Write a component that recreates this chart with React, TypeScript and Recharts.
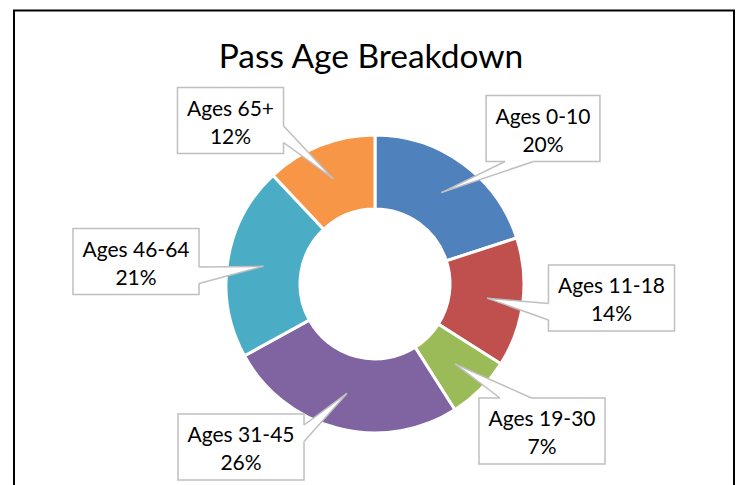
import React from 'react';
import { PieChart, Pie, Cell } from 'recharts';

const categories = ['Ages 0-10', 'Ages 11-18', 'Ages 19-30', 'Ages 31-45', 'Ages 46-64', 'Ages 65+'];
const shares = [20, 14, 7, 26, 21, 12];
const colors = ['#4F81BD', '#C0504D', '#9BBB59', '#8064A2', '#4BACC6', '#F79646'];
const title = 'Pass Age Breakdown';

// label box centre offsets relative to pie centre (layout only)
const labelOffsets: [number, number][] = [
  [168, -155.5],
  [236.5, 14],
  [167, 147],
  [-134, 163],
  [-239, -22.5],
  [-144.5, -163.5],
];

const data = categories.map((name, i) => ({ name, value: shares[i] }));

const LABEL_SIZE = 21;
const LABEL_FONT = `${LABEL_SIZE}px Lato`;
let ctx: CanvasRenderingContext2D | null = null;
function measure(t: string): number {
  if (!ctx) ctx = document.createElement('canvas').getContext('2d');
  if (!ctx) return t.length * 10;
  ctx.font = LABEL_FONT;
  return ctx.measureText(t).width;
}

function Callout(props: any) {
  const { cx, cy, midAngle, innerRadius, outerRadius, percent, index } = props;
  const name = props.name ?? props.payload?.name;
  const RAD = Math.PI / 180;
  const rm = (innerRadius + outerRadius) / 2 + 1;
  const tx = cx + rm * Math.cos(-midAngle * RAD);
  const ty = cy + rm * Math.sin(-midAngle * RAD);
  const [ox, oy] = labelOffsets[index];
  const bx = cx + ox;
  const by = cy + oy;
  const line1 = name;
  const line2 = `${Math.round(percent * 100)}%`;
  const w = Math.max(measure(line1), measure(line2)) + 19;
  const h = 66;
  const l = bx - w / 2;
  const t = by - h / 2;
  const dxPos = tx - bx;
  const dyPos = ty - by;
  const dxs = (dxPos * h) / w;
  let p1: [number, number];
  let p2: [number, number];
  if (Math.abs(dxs) > Math.abs(dyPos)) {
    const ex = dxPos > 0 ? l + w : l;
    const ya = dyPos > 0 ? t + (h * 7) / 12 : t + (h * 2) / 12;
    const yb = dyPos > 0 ? t + (h * 10) / 12 : t + (h * 5) / 12;
    p1 = [ex, ya];
    p2 = [ex, yb];
  } else {
    const ey = dyPos > 0 ? t + h : t;
    const xa = dxPos > 0 ? l + (w * 7) / 12 : l + (w * 2) / 12;
    const xb = dxPos > 0 ? l + (w * 10) / 12 : l + (w * 5) / 12;
    p1 = [xa, ey];
    p2 = [xb, ey];
  }
  const gray = '#BFBFBF';
  return (
    <g>
      <rect x={l} y={t} width={w} height={h} fill="#fff" stroke={gray} strokeWidth={1.5} />
      <polygon points={`${p1[0]},${p1[1]} ${tx},${ty} ${p2[0]},${p2[1]}`} fill="#fff" stroke="none" />
      <line x1={p1[0]} y1={p1[1]} x2={p2[0]} y2={p2[1]} stroke="#fff" strokeWidth={2.5} />
      <line x1={p1[0]} y1={p1[1]} x2={tx} y2={ty} stroke={gray} strokeWidth={1.5} />
      <line x1={p2[0]} y1={p2[1]} x2={tx} y2={ty} stroke={gray} strokeWidth={1.5} />
      <text x={bx} y={by - 5} textAnchor="middle" fontFamily="Lato" fontSize={LABEL_SIZE} fill="#000">
        {line1}
      </text>
      <text x={bx} y={by + 23} textAnchor="middle" fontFamily="Lato" fontSize={LABEL_SIZE} fill="#000">
        {line2}
      </text>
    </g>
  );
}

export default function App() {
  return (
    <div style={{ position: 'absolute', left: 0, top: 0, width: 738, height: 485, background: '#fff', overflow: 'hidden' }}>
      <PieChart width={738} height={485} margin={{ top: 0, right: 0, bottom: 0, left: 0 }}>
        <Pie
          data={data}
          dataKey="value"
          nameKey="name"
          cx={375}
          cy={284}
          innerRadius={75}
          outerRadius={149}
          startAngle={90}
          endAngle={-270}
          stroke="#fff"
          strokeWidth={3}
          label={Callout}
          labelLine={false}
          isAnimationActive={false}
        >
          {data.map((d, i) => (
            <Cell key={d.name} fill={colors[i]} />
          ))}
        </Pie>
      </PieChart>
      <svg width={738} height={485} style={{ position: 'absolute', left: 0, top: 0, pointerEvents: 'none' }}>
        <rect x={14} y={10.5} width={720} height={600} fill="none" stroke="#000" strokeWidth={2} />
        <text x={371} y={68} textAnchor="middle" fontFamily="Lato" fontSize={33.5} fill="#000">
          {title}
        </text>
      </svg>
    </div>
  );
}
